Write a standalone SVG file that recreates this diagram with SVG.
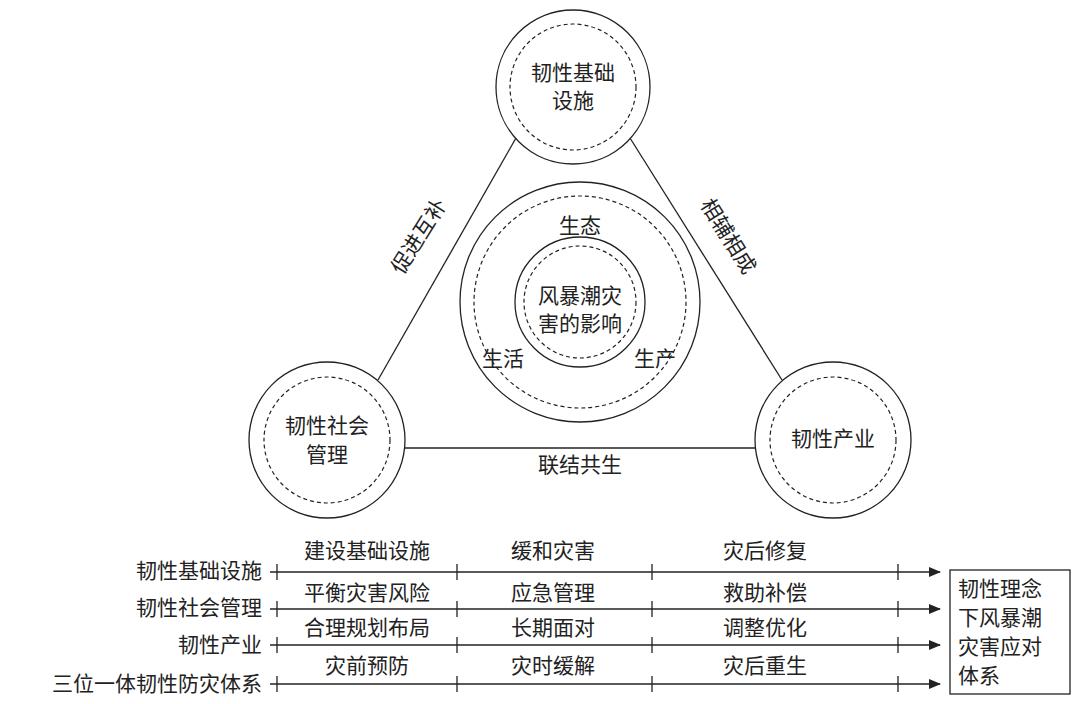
<svg xmlns="http://www.w3.org/2000/svg" width="1080" height="704" viewBox="0 0 1080 704">
<style>
text{font-family:"Noto Sans CJK SC","Noto Sans",sans-serif;font-size:21px;fill:#222}
.c{fill:#fff;stroke:#222;stroke-width:1.3}
.d{fill:none;stroke:#222;stroke-width:1.2;stroke-dasharray:4 3}
.l{stroke:#222;stroke-width:1.3;fill:none}
.m{text-anchor:middle}
.e{text-anchor:end}
</style>
<defs><marker id="a" markerWidth="12" markerHeight="10" refX="11" refY="5" orient="auto" markerUnits="userSpaceOnUse"><path d="M0,0L12,5L0,10z" fill="#222"/></marker></defs>
<rect width="1080" height="704" fill="#fff"/>
<g id="connectors">
<line class="l" x1="516" y1="138" x2="378" y2="380"/>
<line class="l" x1="630" y1="138" x2="782" y2="380"/>
<line class="l" x1="405" y1="448" x2="755" y2="448"/>
<g class="l">
<line x1="270" y1="572" x2="940" y2="572" marker-end="url(#a)"/>
<line x1="270" y1="609" x2="940" y2="609" marker-end="url(#a)"/>
<line x1="270" y1="645" x2="940" y2="645" marker-end="url(#a)"/>
<line x1="270" y1="684" x2="940" y2="684" marker-end="url(#a)"/>
<path d="M277,564v16M457,564v16M652,564v16M898,564v16M277,601v16M457,601v16M652,601v16M898,601v16M277,637v16M457,637v16M652,637v16M898,637v16M277,676v16M457,676v16M652,676v16M898,676v16"/>
</g>
</g>
<text class="m" transform="translate(425,240) rotate(-58)">促进互补</text>
<text class="m" transform="translate(722,240) rotate(58)">相辅相成</text>
<text class="m" x="580" y="472">联结共生</text>
<g id="top"><circle class="c" cx="573" cy="87" r="77"/><circle class="d" cx="573" cy="87" r="63"/>
<text class="m" x="573" y="80">韧性基础</text><text class="m" x="573" y="108">设施</text></g>
<g id="left"><circle class="c" cx="327" cy="440" r="78"/><circle class="d" cx="327" cy="440" r="63"/>
<text class="m" x="327" y="433">韧性社会</text><text class="m" x="327" y="462">管理</text></g>
<g id="right"><circle class="c" cx="833" cy="440" r="78"/><circle class="d" cx="833" cy="440" r="63"/>
<text class="m" x="833" y="446">韧性产业</text></g>
<g id="center"><circle class="c" cx="580" cy="302" r="120"/><circle class="d" cx="580" cy="302" r="106"/>
<circle class="c" cx="580" cy="302" r="65"/><circle class="d" cx="580" cy="302" r="56"/>
<text class="m" x="580" y="303">风暴潮灾</text><text class="m" x="580" y="331">害的影响</text>
<text class="m" x="580" y="233">生态</text><text class="m" x="503" y="366">生活</text><text class="m" x="655" y="366">生产</text></g>
<g id="rows">
<text class="e" x="262" y="578">韧性基础设施</text>
<text class="e" x="262" y="615">韧性社会管理</text>
<text class="e" x="262" y="652">韧性产业</text>
<text class="e" x="262" y="691">三位一体韧性防灾体系</text>
<text class="m" x="367" y="558">建设基础设施</text><text class="m" x="553" y="558">缓和灾害</text><text class="m" x="765" y="558">灾后修复</text>
<text class="m" x="367" y="600">平衡灾害风险</text><text class="m" x="553" y="600">应急管理</text><text class="m" x="765" y="600">救助补偿</text>
<text class="m" x="367" y="635">合理规划布局</text><text class="m" x="553" y="635">长期面对</text><text class="m" x="765" y="635">调整优化</text>
<text class="m" x="367" y="673">灾前预防</text><text class="m" x="553" y="673">灾时缓解</text><text class="m" x="765" y="673">灾后重生</text>
</g>
<g id="result"><rect x="950" y="570" width="120" height="124" fill="#fff" stroke="#222" stroke-width="1.3"/>
<text x="958" y="596">韧性理念</text><text x="958" y="625">下风暴潮</text><text x="958" y="654">灾害应对</text><text x="958" y="683">体系</text></g>
</svg>
